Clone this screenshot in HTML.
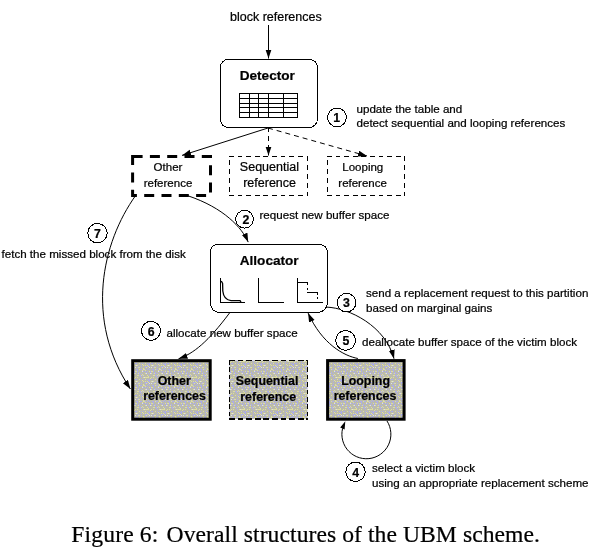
<!DOCTYPE html>
<html><head><meta charset="utf-8">
<style>
html,body{margin:0;padding:0;background:#fff;width:605px;height:559px;overflow:hidden}
svg{position:absolute;left:0;top:0;will-change:transform}
text{font-family:"Liberation Sans",sans-serif;fill:#000;stroke:#000;stroke-width:0.22px}
.a{font-size:11.6px}
.l{font-size:11.5px}
.s{font-size:12.5px}
.b{font-size:12.4px;font-weight:bold}
.t{font-size:13.6px;font-weight:bold}
.n{font-size:12.3px;font-weight:bold}
.cap{font-family:"Liberation Serif",serif;font-size:23.6px;fill:#000}
</style></head><body>
<svg width="605" height="559" viewBox="0 0 605 559">
<defs>
<marker id="ar" markerWidth="10" markerHeight="7" refX="9" refY="3" orient="auto" markerUnits="userSpaceOnUse">
<path d="M0,0 L9,3 L0,6 Z" fill="#000"/>
</marker>
<pattern id="tex" width="16" height="16" patternUnits="userSpaceOnUse">
<rect width="16" height="16" fill="#bbbbab"/>
<rect x="4" y="0" width="1" height="1" fill="#acacee"/><rect x="15" y="0" width="1" height="1" fill="#dedea0"/><rect x="0" y="1" width="1" height="1" fill="#dedea0"/><rect x="1" y="1" width="1" height="1" fill="#acacee"/><rect x="3" y="1" width="1" height="1" fill="#acacee"/><rect x="5" y="1" width="1" height="1" fill="#acacee"/><rect x="8" y="1" width="1" height="1" fill="#acacee"/><rect x="9" y="1" width="1" height="1" fill="#acacee"/><rect x="11" y="1" width="1" height="1" fill="#dedea0"/><rect x="12" y="1" width="1" height="1" fill="#acacee"/><rect x="13" y="1" width="1" height="1" fill="#acacee"/><rect x="15" y="1" width="1" height="1" fill="#dedea0"/><rect x="1" y="2" width="1" height="1" fill="#dedea0"/><rect x="9" y="2" width="1" height="1" fill="#acacee"/><rect x="14" y="2" width="1" height="1" fill="#dedea0"/><rect x="1" y="3" width="1" height="1" fill="#acacee"/><rect x="3" y="3" width="1" height="1" fill="#acacee"/><rect x="5" y="3" width="1" height="1" fill="#dedea0"/><rect x="6" y="3" width="1" height="1" fill="#acacee"/><rect x="7" y="3" width="1" height="1" fill="#dedea0"/><rect x="8" y="3" width="1" height="1" fill="#dedea0"/><rect x="9" y="3" width="1" height="1" fill="#acacee"/><rect x="14" y="3" width="1" height="1" fill="#dcdcf0"/><rect x="15" y="3" width="1" height="1" fill="#acacee"/><rect x="2" y="4" width="1" height="1" fill="#acacee"/><rect x="6" y="4" width="1" height="1" fill="#acacee"/><rect x="11" y="4" width="1" height="1" fill="#acacee"/><rect x="1" y="5" width="1" height="1" fill="#dedea0"/><rect x="2" y="5" width="1" height="1" fill="#dcdcf0"/><rect x="4" y="5" width="1" height="1" fill="#acacee"/><rect x="6" y="5" width="1" height="1" fill="#dcdcf0"/><rect x="7" y="5" width="1" height="1" fill="#dedea0"/><rect x="9" y="5" width="1" height="1" fill="#acacee"/><rect x="10" y="5" width="1" height="1" fill="#dedea0"/><rect x="11" y="5" width="1" height="1" fill="#acacee"/><rect x="13" y="5" width="1" height="1" fill="#acacee"/><rect x="14" y="6" width="1" height="1" fill="#dedea0"/><rect x="3" y="7" width="1" height="1" fill="#dedea0"/><rect x="5" y="7" width="1" height="1" fill="#acacee"/><rect x="9" y="7" width="1" height="1" fill="#dedea0"/><rect x="10" y="7" width="1" height="1" fill="#dedea0"/><rect x="11" y="7" width="1" height="1" fill="#acacee"/><rect x="12" y="7" width="1" height="1" fill="#acacee"/><rect x="13" y="7" width="1" height="1" fill="#dedea0"/><rect x="14" y="7" width="1" height="1" fill="#acacee"/><rect x="15" y="7" width="1" height="1" fill="#dedea0"/><rect x="4" y="8" width="1" height="1" fill="#dedea0"/><rect x="12" y="8" width="1" height="1" fill="#acacee"/><rect x="0" y="9" width="1" height="1" fill="#dcdcf0"/><rect x="1" y="9" width="1" height="1" fill="#dedea0"/><rect x="2" y="9" width="1" height="1" fill="#dedea0"/><rect x="3" y="9" width="1" height="1" fill="#dedea0"/><rect x="4" y="9" width="1" height="1" fill="#dedea0"/><rect x="7" y="9" width="1" height="1" fill="#dedea0"/><rect x="9" y="9" width="1" height="1" fill="#dedea0"/><rect x="13" y="9" width="1" height="1" fill="#acacee"/><rect x="15" y="9" width="1" height="1" fill="#dedea0"/><rect x="6" y="10" width="1" height="1" fill="#dedea0"/><rect x="1" y="11" width="1" height="1" fill="#dedea0"/><rect x="3" y="11" width="1" height="1" fill="#acacee"/><rect x="5" y="11" width="1" height="1" fill="#acacee"/><rect x="7" y="11" width="1" height="1" fill="#acacee"/><rect x="8" y="11" width="1" height="1" fill="#acacee"/><rect x="11" y="11" width="1" height="1" fill="#dedea0"/><rect x="13" y="11" width="1" height="1" fill="#acacee"/><rect x="15" y="11" width="1" height="1" fill="#acacee"/><rect x="4" y="12" width="1" height="1" fill="#acacee"/><rect x="5" y="12" width="1" height="1" fill="#acacee"/><rect x="14" y="12" width="1" height="1" fill="#dedea0"/><rect x="1" y="13" width="1" height="1" fill="#dedea0"/><rect x="3" y="13" width="1" height="1" fill="#dedea0"/><rect x="5" y="13" width="1" height="1" fill="#acacee"/><rect x="7" y="13" width="1" height="1" fill="#dedea0"/><rect x="8" y="13" width="1" height="1" fill="#dcdcf0"/><rect x="9" y="13" width="1" height="1" fill="#dedea0"/><rect x="13" y="13" width="1" height="1" fill="#acacee"/><rect x="15" y="13" width="1" height="1" fill="#dedea0"/><rect x="1" y="14" width="1" height="1" fill="#acacee"/><rect x="2" y="14" width="1" height="1" fill="#acacee"/><rect x="3" y="14" width="1" height="1" fill="#acacee"/><rect x="4" y="14" width="1" height="1" fill="#dedea0"/><rect x="10" y="14" width="1" height="1" fill="#acacee"/><rect x="1" y="15" width="1" height="1" fill="#acacee"/><rect x="2" y="15" width="1" height="1" fill="#dedea0"/><rect x="5" y="15" width="1" height="1" fill="#dcdcf0"/><rect x="7" y="15" width="1" height="1" fill="#dcdcf0"/><rect x="9" y="15" width="1" height="1" fill="#acacee"/><rect x="10" y="15" width="1" height="1" fill="#dedea0"/><rect x="11" y="15" width="1" height="1" fill="#dedea0"/><rect x="13" y="15" width="1" height="1" fill="#acacee"/>
</pattern>
</defs>
<!-- gray boxes -->
<rect x="132.7" y="360.7" width="77.5" height="58.5" fill="url(#tex)" stroke="#000" stroke-width="3"/>
<rect x="229.5" y="360.5" width="78" height="58.5" fill="url(#tex)"/>
<g fill="none" stroke="#000" stroke-width="1.1" shape-rendering="crispEdges"><path stroke-dasharray="5.7 2.9" d="M229 360.5H307.5M229 419H307.5"/><path stroke-dasharray="4.5 2.9" d="M229.5 360V420M307.5 360V420"/></g>
<rect x="327.6" y="360.6" width="76.5" height="58.6" fill="url(#tex)" stroke="#000" stroke-width="3"/>
<g fill="none" stroke="#000" stroke-width="1">
<!-- block references arrow -->
<line x1="268.5" y1="25" x2="268.5" y2="58.5" marker-end="url(#ar)"/>
<!-- detector box -->
<path shape-rendering="crispEdges" d="M228 59.5H309.5A8 8 0 0 1 317.5 67.5V119A8.5 8.5 0 0 1 309 127.5H228.5A8 8 0 0 1 220.5 119.5V67A7.5 7.5 0 0 1 228 59.5Z"/>
<!-- table -->
<g shape-rendering="crispEdges" stroke-width="1.25">
<rect x="239.5" y="93.5" width="58" height="24"/>
<path d="M239.5 98.5H297.5M239.5 103.5H297.5M239.5 107.5H297.5M239.5 112.5H297.5M249.5 93.5V117.5M258.5 93.5V117.5M268.5 93.5V117.5M283.5 93.5V117.5"/>
</g>
<!-- detector to boxes -->
<line x1="268" y1="128" x2="182" y2="155.4" marker-end="url(#ar)"/>
<line x1="268.5" y1="127" x2="268.5" y2="155.5" stroke-dasharray="5,4" marker-end="url(#ar)"/>
<line x1="268" y1="128" x2="367" y2="156" stroke-dasharray="5,4" marker-end="url(#ar)"/>
<!-- other reference thick dashed -->
<path d="M132.6 156.6H210.5V195.4H132.6Z" stroke-width="3" stroke-dasharray="10 7.3"/>
<g shape-rendering="crispEdges">
<path stroke-dasharray="4.8 3.8" d="M229.0 156.5H304.5M229.0 195.5H304.5"/><path stroke-dasharray="4.8 4.1" d="M307.5 156.0V196.0"/><path stroke-dasharray="5 4" d="M229.5 160.2V192.2"/>
<path stroke-dasharray="4.8 3.8" d="M327.0 156.5H401.5M327.0 195.5H401.5"/><path stroke-dasharray="4.8 4.1" d="M404.5 156.0V196.0"/><path stroke-dasharray="5 4" d="M327.5 160.2V192.2"/>
</g>
<!-- allocator box -->
<path shape-rendering="crispEdges" d="M217.5 244.5H319.5A8 8 0 0 1 327.5 252.5V302.5A10 10 0 0 1 317.5 312.5H219.5A9 9 0 0 1 210.5 303.5V251.5A7 7 0 0 1 217.5 244.5Z"/>
<g shape-rendering="crispEdges">
<path d="M220.5 278V302.5H244.5M258.5 278V302.5H283.5M297.5 278V302.5H322.5"/>
<path d="M297.5 282.5H308M307 292.5H318"/>
<path d="M307.5 282.5V285M307.5 288V290M317.5 292.5V295M317.5 297V299"/>
</g>
<path stroke-width="1.3" d="M221.3 281 L222.6 283.5 L222.8 291 C223.3 296 226 300 231 300.6 L240 300.6 L241 302"/>
<!-- curves -->
<path d="M135.7 195.4 C102.1 242.5 84.3 319.7 130.4 389.0" marker-end="url(#ar)"/>
<path d="M187.4 195.6 C223.9 207.7 242.1 227.9 248.2 242.1" marker-end="url(#ar)"/>
<path d="M229.6 312.9 C208.2 341.6 193.6 353.6 178.5 358.8" marker-end="url(#ar)"/>
<path d="M326.6 307.1 C349.5 308.1 385.4 326.0 394.0 358.7" marker-end="url(#ar)"/>
<path d="M357.9 358.5 C343.7 355.8 322.1 344.0 308.1 313.1" marker-end="url(#ar)"/>
<path d="M387 421 A24.5 24.5 0 1 1 343.5 425.5"/>
<path d="M345.3 421.2 L340.2 427.6 L344.6 429.6 Z" fill="#000" stroke="none"/>
</g>
<!-- circles -->
<g fill="#fff" stroke="#000" stroke-width="1" shape-rendering="crispEdges">
<circle cx="337" cy="117.4" r="9.4"/>
<circle cx="244.55" cy="219.25" r="8.9"/>
<circle cx="346.6" cy="302.7" r="9.3"/>
<circle cx="355.5" cy="471.8" r="9.7"/>
<circle cx="345.6" cy="340.4" r="9.9"/>
<circle cx="151" cy="330.85" r="9.5"/>
<circle cx="97.45" cy="233.15" r="9.7"/>
</g>
<g text-anchor="middle">
<text class="n" x="336.6" y="122.3">1</text>
<text class="n" x="245.8" y="223.9">2</text>
<text class="n" x="346.5" y="307.3">3</text>
<text class="n" x="355.6" y="476.5">4</text>
<text class="n" x="345.8" y="345">5</text>
<text class="n" x="151.1" y="335.6">6</text>
<text class="n" x="97.5" y="238">7</text>
</g>
<text class="s" x="230" y="20.7">block references</text>
<text class="t" x="267.3" y="80" text-anchor="middle">Detector</text>
<text class="t" x="269.2" y="264.7" text-anchor="middle">Allocator</text>
<text class="a" x="356.5" y="112.5">update the table and</text>
<text class="a" x="356.5" y="126.7">detect sequential and looping references</text>
<g text-anchor="middle">
<text class="l" x="168" y="170.8">Other</text>
<text class="l" x="168" y="187.2">reference</text>
<text class="s" x="269.4" y="171.2">Sequential</text>
<text class="s" x="269.6" y="187.1">reference</text>
<text class="l" x="362.8" y="171.2">Looping</text>
<text class="l" x="362.6" y="187.1">reference</text>
</g>
<text class="a" x="259.5" y="219">request new buffer space</text>
<text class="a" x="1.5" y="258.3">fetch the missed block from the disk</text>
<text class="a" x="366" y="296.9">send a replacement request to this partition</text>
<text class="a" x="366" y="311.6">based on marginal gains</text>
<text class="a" x="166.5" y="336.7">allocate new buffer space</text>
<text class="a" x="362" y="345.7">deallocate buffer space of the victim block</text>
<text class="a" x="372" y="472.2">select a victim block</text>
<text class="a" x="372" y="487.2">using an appropriate replacement scheme</text>
<g text-anchor="middle">
<text class="b" x="174.2" y="384.7">Other</text>
<text class="b" x="174.5" y="399.7">references</text>
<text class="b" x="267" y="384.7">Sequential</text>
<text class="b" x="268.2" y="401.4">reference</text>
<text class="b" x="365.6" y="385.3">Looping</text>
<text class="b" x="365" y="400.2">references</text>
</g>
<text class="cap" x="71.3" y="542.3" letter-spacing="0.15">Figure 6:</text>
<text class="cap" x="166.6" y="542.3" letter-spacing="0.07">Overall structures of the UBM scheme.</text>
</svg>
</body></html>
